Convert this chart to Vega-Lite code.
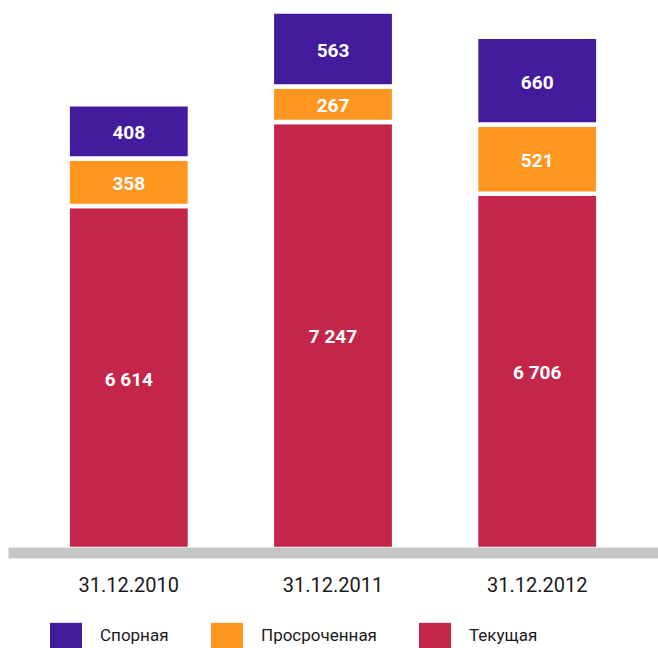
{
  "$schema": "https://vega.github.io/schema/vega-lite/v6.json",
  "width": 650,
  "height": 549,
  "padding": {"left": 8, "top": 0, "right": 0, "bottom": 99},
  "autosize": {"type": "none"},
  "background": "white",
  "config": {
    "view": {"stroke": null},
    "locale": {"number": {"decimal": ",", "thousands": " ", "grouping": [3], "currency": ["", ""]}}
  },
  "data": {
    "values": [
      {"date": "31.12.2010", "cat": "Текущая", "value": 6614},
      {"date": "31.12.2010", "cat": "Просроченная", "value": 358},
      {"date": "31.12.2010", "cat": "Спорная", "value": 408},
      {"date": "31.12.2011", "cat": "Текущая", "value": 7247},
      {"date": "31.12.2011", "cat": "Просроченная", "value": 267},
      {"date": "31.12.2011", "cat": "Спорная", "value": 563},
      {"date": "31.12.2012", "cat": "Текущая", "value": 6706},
      {"date": "31.12.2012", "cat": "Просроченная", "value": 521},
      {"date": "31.12.2012", "cat": "Спорная", "value": 660}
    ]
  },
  "transform": [
    {"calculate": "indexof(['Текущая','Просроченная','Спорная'], datum.cat)", "as": "ord"},
    {"stack": "value", "groupby": ["date"], "sort": [{"field": "ord", "order": "ascending"}], "as": ["v0", "v1"]},
    {"calculate": "(max(datum.v0, 4034) + datum.v1) / 2", "as": "mid"}
  ],
  "encoding": {
    "x": {
      "field": "date",
      "type": "nominal",
      "scale": {"paddingInner": 0.401, "paddingOuter": 0.292},
      "axis": {
        "title": null,
        "labelAngle": 0,
        "domainColor": "#c6c6c6",
        "domainWidth": 11,
        "offset": 3.5,
        "ticks": false,
        "tickSize": 0,
        "labelFont": "Roboto",
        "labelFontSize": 20,
        "labelColor": "#1a1a1a",
        "labelPadding": 23,
        "zindex": 1
      }
    }
  },
  "layer": [
    {
      "mark": {"type": "bar", "stroke": "white", "strokeWidth": 4.5},
      "encoding": {
        "y": {
          "field": "v0",
          "type": "quantitative",
          "scale": {"domain": [4034, 8164], "nice": false, "zero": false, "clamp": true},
          "axis": null
        },
        "y2": {"field": "v1"},
        "color": {
          "field": "cat",
          "type": "nominal",
          "scale": {
            "domain": ["Спорная", "Просроченная", "Текущая"],
            "range": ["#431c9e", "#ff961f", "#c32649"]
          },
          "legend": {
            "orient": "none",
            "legendX": 42,
            "legendY": 620,
            "direction": "horizontal",
            "title": null,
            "padding": 0,
            "symbolType": "M-1,-0.84H1V0.84H-1Z",
            "symbolSize": 1024,
            "symbolStrokeWidth": 0,
            "symbolStrokeColor": "transparent",
            "symbolOpacity": 1,
            "labelFont": "Roboto",
            "labelFontSize": 17,
            "labelColor": "#1a1a1a",
            "labelOffset": 18,
            "columnPadding": 42
          }
        }
      }
    },
    {
      "mark": {"type": "text", "font": "Roboto", "fontWeight": "bold", "fontSize": 19, "fill": "white", "baseline": "middle", "dy": 2},
      "encoding": {
        "y": {"field": "mid", "type": "quantitative"},
        "text": {"field": "value", "type": "quantitative", "format": ",d"}
      }
    }
  ]
}
